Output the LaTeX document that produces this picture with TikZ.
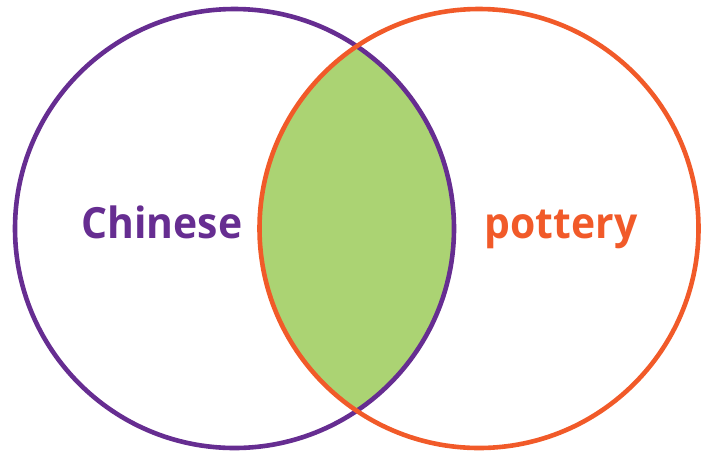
\documentclass[tikz,border=0pt]{standalone}
\usepackage{fontspec}
\setmainfont{Open Sans}
\definecolor{vpurple}{HTML}{662D91}
\definecolor{vorange}{HTML}{F15A29}
\definecolor{vgreen}{HTML}{ABD373}
\begin{document}
\begin{tikzpicture}[x=1pt,y=-1pt,
  setring/.style={circle, draw=#1, line width=4.6pt, minimum size=439pt, inner sep=0pt},
  setlabel/.style={text=#1, font=\bfseries\fontsize{43}{52}\selectfont, inner sep=0pt, anchor=base, xscale=0.95}]
\useasboundingbox (0,0) rectangle (709,451);
\begin{scope}
  \clip (234.5,228.5) circle (219.5pt);
  \fill[vgreen] (479,228.5) circle (219.5pt);
\end{scope}
\node[setring=vpurple] (L) at (234.5,228.5) {};
\node[setring=vorange] (R) at (479,228.5) {};
\node[setlabel=vpurple] (chinese) at (162,238) {Chinese};
\node[setlabel=vorange] (pottery) at (561,238) {pottery};
\end{tikzpicture}
\end{document}
